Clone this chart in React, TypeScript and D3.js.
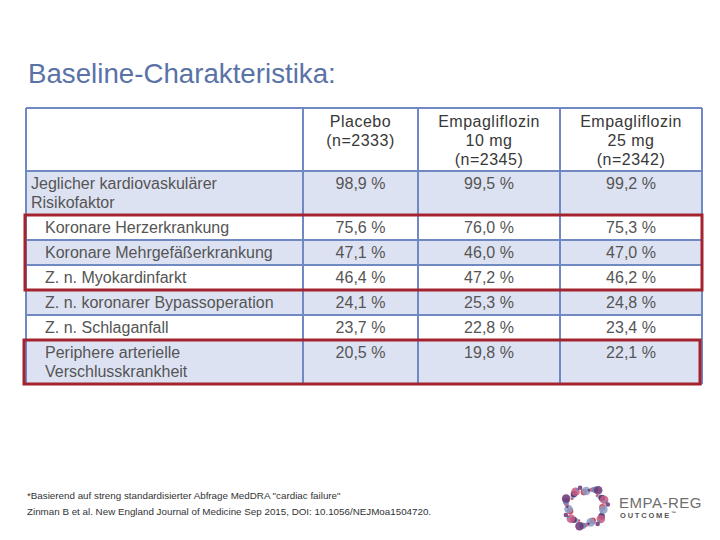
import React from "react";
import * as d3 from "d3";

const title = "Baseline-Charakteristika:";
const columnHeaders: string[][] = [
  [],
  ["Placebo", "(n=2333)"],
  ["Empagliflozin", "10 mg", "(n=2345)"],
  ["Empagliflozin", "25 mg", "(n=2342)"],
];
const rowLabels: string[][] = [
  ["Jeglicher kardiovaskulärer", "Risikofaktor"],
  ["Koronare Herzerkrankung"],
  ["Koronare Mehrgefäßerkrankung"],
  ["Z. n. Myokardinfarkt"],
  ["Z. n. koronarer Bypassoperation"],
  ["Z. n. Schlaganfall"],
  ["Periphere arterielle", "Verschlusskrankheit"],
];
const placebo = [98.9, 75.6, 47.1, 46.4, 24.1, 23.7, 20.5];
const empa10 = [99.5, 76.0, 46.0, 47.2, 25.3, 22.8, 19.8];
const empa25 = [99.2, 75.3, 47.0, 46.2, 24.8, 23.4, 22.1];
const highlightGroups: [number, number][] = [
  [1, 3],
  [6, 6],
];
const footnotes = [
  '*Basierend auf streng standardisierter Abfrage MedDRA "cardiac failure"',
  "Zinman B et al. New England Journal of Medicine  Sep 2015, DOI: 10.1056/NEJMoa1504720.",
];

const fmt = (v: number) => d3.format(".1f")(v).replace(".", ",") + " %";

export default function App() {
  const W = 720;
  const H = 540;
  const gridColor = "#7189c2";
  const fillAlt = "#dde2f2";
  const red = "#a3242f";
  const textCol = "#555";
  const font = "'Liberation Sans', Arial, sans-serif";

  const colEdges = [26, 303, 418, 560, 702];
  const tableTop = 108;
  const headerH = 63;
  const lineRowH = 25;
  const twoLineRowH = 44;

  const rowHeights = rowLabels.map((l) => (l.length > 1 ? twoLineRowH : lineRowH));
  const cum = d3.cumsum(rowHeights);
  const rowTops = rowHeights.map((_, i) => tableTop + headerH + (i === 0 ? 0 : cum[i - 1]));
  const tableBottom = tableTop + headerH + cum[cum.length - 1];

  const values = [placebo, empa10, empa25];
  const colCenter = (c: number) => (colEdges[c] + colEdges[c + 1]) / 2;

  // logo dots (decorative)
  const logoCx = 586;
  const logoCy = 507;
  const logoColors = ["#d0283c", "#6b3276", "#6a86b0", "#c45a82", "#4b2a6a", "#8aa0c8"];
  const logoDots = d3.range(44).map((i) => {
    const a = (i / 44) * Math.PI * 2 + 0.3;
    const rr = 16 + ((i * 7) % 6) - 1;
    const size = 1.3 + ((i * 5) % 4) * 1.0;
    return {
      x: logoCx + Math.cos(a) * rr * 1.1,
      y: logoCy + Math.sin(a) * rr,
      r: size,
      c: logoColors[(i * 5) % logoColors.length],
    };
  });

  return (
    <svg width={W} height={H} style={{ position: "absolute", left: 0, top: 0, background: "#fff" }}>
      <rect x={0} y={0} width={W} height={H} fill="#fff" />
      <text x={28} y={83} fontFamily={font} fontSize={27.7} fill="#5a73a7">
        {title}
      </text>

      {/* row fills */}
      {rowLabels.map((_, i) => (
        <rect
          key={"f" + i}
          x={colEdges[0]}
          y={rowTops[i]}
          width={colEdges[4] - colEdges[0]}
          height={rowHeights[i]}
          fill={i % 2 === 0 ? fillAlt : "#fff"}
        />
      ))}

      {/* horizontal grid lines */}
      {[tableTop, tableTop + headerH, ...rowTops.slice(1), tableBottom].map((y, i) => (
        <line key={"h" + i} x1={colEdges[0]} x2={colEdges[4]} y1={y} y2={y} stroke={gridColor} strokeWidth={2} />
      ))}
      {/* vertical grid lines */}
      {colEdges.map((x, i) => (
        <line key={"v" + i} x1={x} x2={x} y1={tableTop} y2={tableBottom} stroke={gridColor} strokeWidth={2} />
      ))}

      {/* headers */}
      {columnHeaders.map((lines, c) =>
        lines.map((t, j) => (
          <text
            key={"hd" + c + j}
            x={colCenter(c)}
            y={tableTop + 19 + j * 19}
            textAnchor="middle"
            fontFamily={font}
            fontSize={16}
            letterSpacing={0.5}
            fill="#383838"
          >
            {t}
          </text>
        ))
      )}

      {/* row labels */}
      {rowLabels.map((lines, i) =>
        lines.map((t, j) => (
          <text
            key={"rl" + i + j}
            x={i === 0 ? 31 : 45}
            y={rowTops[i] + 18 + j * 19}
            fontFamily={font}
            fontSize={16}
            fill={textCol}
          >
            {t}
          </text>
        ))
      )}

      {/* values */}
      {values.map((arr, c) =>
        arr.map((v, i) => (
          <text
            key={"v" + c + i}
            x={colCenter(c + 1)}
            y={rowTops[i] + 18}
            textAnchor="middle"
            fontFamily={font}
            fontSize={16}
            fill={textCol}
          >
            {fmt(v)}
          </text>
        ))
      )}

      {/* highlight boxes */}
      {highlightGroups.map(([a, b], k) => {
        const y0 = rowTops[a];
        const y1 = rowTops[b] + rowHeights[b];
        return (
          <rect
            key={"hl" + k}
            x={k === 0 ? 25 : 24}
            y={y0}
            width={k === 0 ? 677 : 676}
            height={y1 - y0}
            fill="none"
            stroke={red}
            strokeWidth={3}
          />
        );
      })}

      {/* footnotes */}
      {footnotes.map((t, i) => (
        <text key={"fn" + i} x={27} y={499 + i * 16} fontFamily={font} fontSize={9.8} fill="#333">
          {t}
        </text>
      ))}

      {/* logo */}
      {logoDots.map((d, i) => (
        <circle key={"ld" + i} cx={d.x} cy={d.y} r={d.r} fill={d.c} opacity={0.85} />
      ))}
      <text x={619} y={508} fontFamily={font} fontSize={15} fill="#6e6e6e" letterSpacing={0.5}>
        EMPA-REG
      </text>
      <text x={620} y={518} fontFamily={font} fontSize={7.5} fontWeight="bold" fill="#555" letterSpacing={1.8}>
        OUTCOME
        <tspan fontSize={5} dy={-3}>
          ™
        </tspan>
      </text>
    </svg>
  );
}
